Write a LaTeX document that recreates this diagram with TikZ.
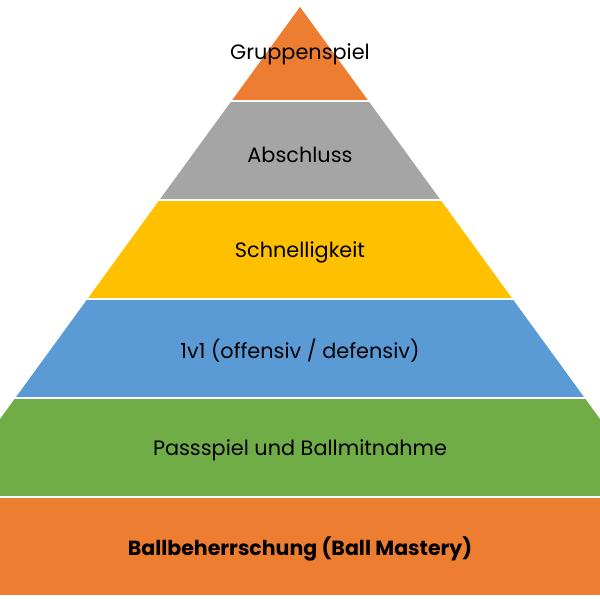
\documentclass[tikz,border=0pt]{standalone}
\usepackage{fontspec}
\setmainfont{Poppins}
\definecolor{pyrOrange}{HTML}{ED7D31}
\definecolor{pyrGray}{HTML}{A5A5A5}
\definecolor{pyrYellow}{HTML}{FFC000}
\definecolor{pyrBlue}{HTML}{5B9BD5}
\definecolor{pyrGreen}{HTML}{70AD47}
\begin{document}
\begin{tikzpicture}[
  x=0.025cm, y=-0.025cm,
  layer/.style={draw=white, line width=1.4pt},
  label/.style={font=\fontsize{14.8}{17}\selectfont, text=black, align=center}
]
\useasboundingbox (0,0) rectangle (600,600);
\clip (0,0) rectangle (600,600);

% Pyramid layers, top to bottom
\filldraw[layer, fill=pyrOrange] (300,5) -- (369.9,101) -- (230.1,101) -- cycle;
\filldraw[layer, fill=pyrGray] (230.1,101) -- (369.9,101) -- (442,200) -- (158,200) -- cycle;
\filldraw[layer, fill=pyrYellow] (158,200) -- (442,200) -- (514,299) -- (86,299) -- cycle;
\filldraw[layer, fill=pyrBlue] (86,299) -- (514,299) -- (586.1,398) -- (13.9,398) -- cycle;
\filldraw[layer, fill=pyrGreen] (13.9,398) -- (586.1,398) -- (658.2,497) -- (-58.2,497) -- cycle;
\filldraw[layer, fill=pyrOrange] (-10,497) rectangle (610,596);

% Labels
\node[label] (group) at (300,54) {Gruppenspiel};
\node[label] (finish) at (300,155) {Abschluss};
\node[label] (speed) at (300,252) {Schnelligkeit};
\node[label] (duel) at (300,351) {1v1 (offensiv / defensiv)};
\node[label] (pass) at (300,450) {Passspiel und Ballmitnahme};
\node[label, font=\fontsize{14.6}{17}\selectfont\bfseries] (mastery) at (300,549) {Ballbeherrschung (Ball Mastery)};
\end{tikzpicture}
\end{document}
